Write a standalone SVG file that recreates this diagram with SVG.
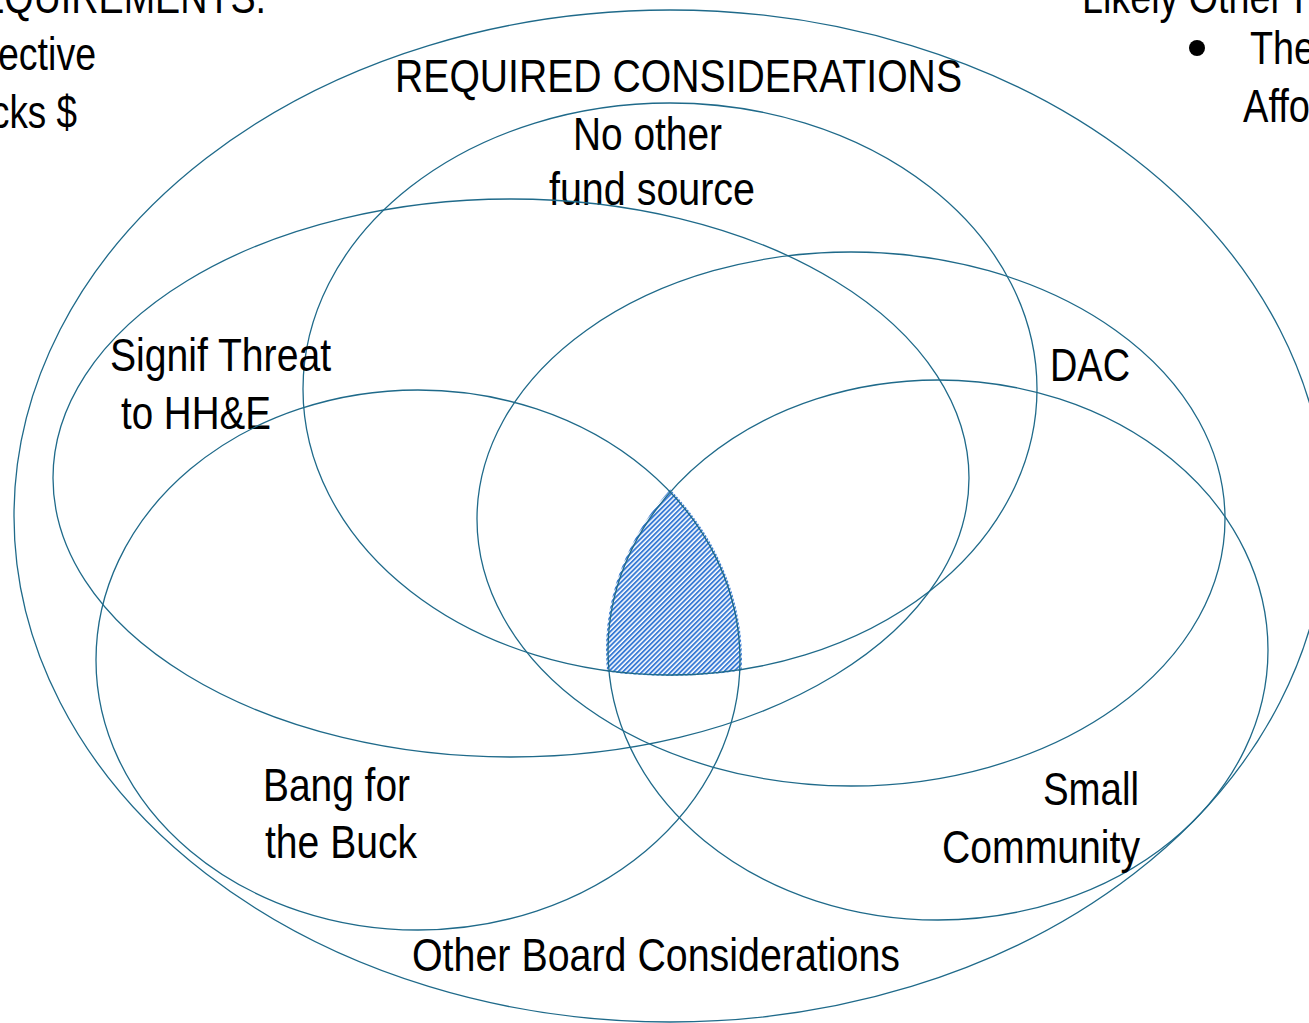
<svg xmlns="http://www.w3.org/2000/svg" width="1309" height="1023" viewBox="0 0 1309 1023">
  <style>
    .ring { fill: none; stroke: #1f6a8a; stroke-width: 1.3; }
    .lbl { font-family: "Liberation Sans Narrow", "Liberation Sans", Arial, sans-serif; font-size: 46px; fill: #000; }
  </style>
  <defs>
    <pattern id="hatch" width="3.4" height="10" patternUnits="userSpaceOnUse" patternTransform="rotate(45)">
      <rect x="0" y="0" width="3.4" height="10" fill="#ffffff"/>
      <rect x="0" y="0" width="1.9" height="10" fill="#3a7bd5"/>
    </pattern>
    <clipPath id="clipG"><ellipse cx="418" cy="660" rx="324" ry="272"/></clipPath>
    <clipPath id="clipSC"><ellipse cx="938" cy="650" rx="332" ry="272"/></clipPath>
    <clipPath id="clipB"><ellipse cx="670" cy="389" rx="367" ry="287"/></clipPath>
  </defs>
  <rect width="1309" height="1023" fill="#ffffff"/>

  <!-- off-canvas fragments -->
  <g id="fragments">
    <text class="lbl" x="266" y="13" text-anchor="end" textLength="314" lengthAdjust="spacingAndGlyphs">REQUIREMENTS:</text>
    <text class="lbl" x="96" y="70" text-anchor="end" textLength="98" lengthAdjust="spacingAndGlyphs">ective</text>
    <text class="lbl" x="77" y="128" text-anchor="end" textLength="86" lengthAdjust="spacingAndGlyphs">cks $</text>
    <text class="lbl" x="1082" y="13" textLength="222" lengthAdjust="spacingAndGlyphs">Likely Other I</text>
    <circle cx="1197" cy="48" r="8" fill="#000"/>
    <text class="lbl" x="1250" y="64" textLength="65" lengthAdjust="spacingAndGlyphs">The</text>
    <text class="lbl" x="1243" y="122" textLength="67" lengthAdjust="spacingAndGlyphs">Affo</text>
  </g>

  <!-- hatched intersection -->
  <g id="core">
    <g clip-path="url(#clipG)">
      <g clip-path="url(#clipSC)">
        <rect x="560" y="440" width="220" height="260" fill="url(#hatch)" clip-path="url(#clipB)"/>
      </g>
    </g>
  </g>

  <g id="required">
    <ellipse class="ring" cx="670" cy="516" rx="656" ry="506"/>
    <text class="lbl" x="395" y="92" font-size="47" textLength="567" lengthAdjust="spacingAndGlyphs">REQUIRED CONSIDERATIONS</text>
    <text class="lbl" x="412" y="971" textLength="488" lengthAdjust="spacingAndGlyphs">Other Board Considerations</text>
  </g>

  <g id="no-other-fund">
    <ellipse class="ring" cx="670" cy="389" rx="367" ry="286"/>
    <text class="lbl" x="573" y="150" textLength="149" lengthAdjust="spacingAndGlyphs">No other</text>
    <text class="lbl" x="549" y="205" textLength="206" lengthAdjust="spacingAndGlyphs">fund source</text>
  </g>

  <g id="signif-threat">
    <ellipse class="ring" cx="511" cy="478" rx="458" ry="279"/>
    <text class="lbl" x="110" y="371" textLength="221" lengthAdjust="spacingAndGlyphs">Signif Threat</text>
    <text class="lbl" x="121" y="429" textLength="150" lengthAdjust="spacingAndGlyphs">to HH&amp;E</text>
  </g>

  <g id="dac">
    <ellipse class="ring" cx="851" cy="519" rx="374" ry="267"/>
    <text class="lbl" x="1050" y="381" textLength="80" lengthAdjust="spacingAndGlyphs">DAC</text>
  </g>

  <g id="bang-for-buck">
    <ellipse class="ring" cx="418" cy="660" rx="322" ry="270"/>
    <text class="lbl" x="263" y="801" textLength="147" lengthAdjust="spacingAndGlyphs">Bang for</text>
    <text class="lbl" x="265" y="858" textLength="152" lengthAdjust="spacingAndGlyphs">the Buck</text>
  </g>

  <g id="small-community">
    <ellipse class="ring" cx="938" cy="650" rx="330" ry="270"/>
    <text class="lbl" x="1139" y="805" text-anchor="end" textLength="96" lengthAdjust="spacingAndGlyphs">Small</text>
    <text class="lbl" x="1140" y="863" text-anchor="end" textLength="198" lengthAdjust="spacingAndGlyphs">Community</text>
  </g>

  <g id="connectors"></g>
</svg>
